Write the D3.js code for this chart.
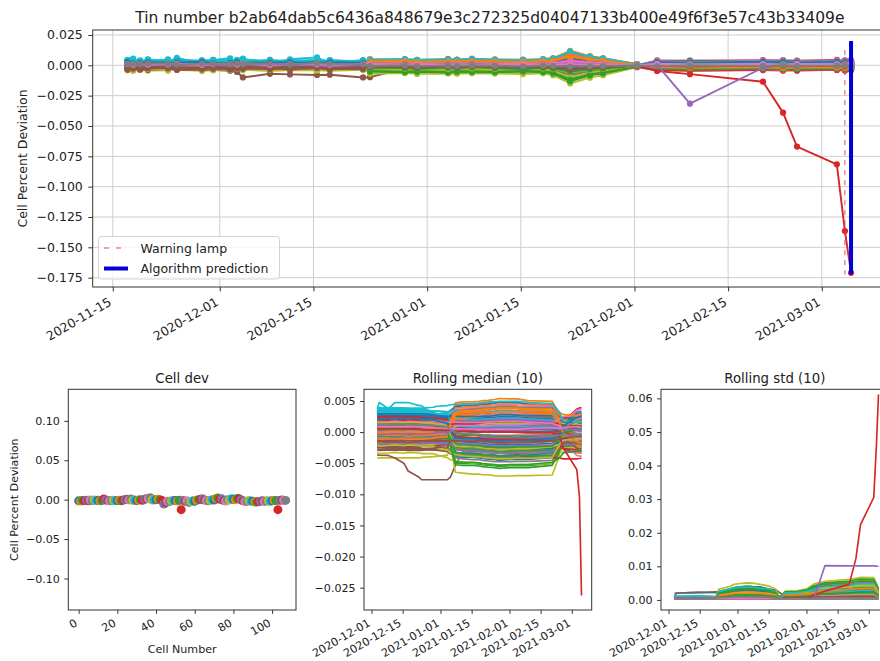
<!DOCTYPE html>
<html>
<head>
<meta charset="utf-8">
<script src="https://cdn.jsdelivr.net/npm/d3@7/dist/d3.min.js"></script>
<style>
  html, body { margin: 0; padding: 0; background: #fff; }
  svg { display: block; }
  text { font-family: "DejaVu Sans", sans-serif; fill: #222; }
</style>
</head>
<body>
<svg id="fig" width="880" height="661"></svg>
<script>
// Measurement timestamps shared by every cell
const measureTimes = [
  "2020-11-17 05:00", "2020-11-18 01:00", "2020-11-19 02:00", "2020-11-20 06:00",
  "2020-11-23 06:00", "2020-11-24 14:00", "2020-11-28 08:00", "2020-11-30 00:00",
  "2020-12-02 13:00", "2020-12-03 14:00", "2020-12-04 11:00", "2020-12-08 12:00",
  "2020-12-11 12:00", "2020-12-15 13:00", "2020-12-17 11:00", "2020-12-22 10:00",
  "2020-12-23 11:00", "2020-12-28 16:00", "2020-12-30 12:00", "2021-01-04 03:00",
  "2021-01-05 11:00", "2021-01-07 17:00", "2021-01-11 03:00", "2021-01-15 08:00",
  "2021-01-18 08:00", "2021-01-19 20:00", "2021-01-22 09:00", "2021-01-25 08:00",
  "2021-01-27 07:00", "2021-02-01 09:00", "2021-02-04 09:00", "2021-02-09 07:00",
  "2021-02-20 05:00", "2021-02-23 05:00", "2021-02-25 07:00", "2021-03-03 06:00",
  "2021-03-04 11:00", "2021-03-05 09:00"
];

// Cell percent deviation per cell (rows) and measurement (columns), in units of 0.0001
const deviationUnit = 1e-4;
const cellDeviation = [
  [25,45,30,42,22,48,34,28,44,24,40,36,20,46,30,38,-39,-44,-41,-46,-40,-42,-45,-38,-43,-50,-101,-63,-50,-8,-12,-17,-14,-19,-13,-15,-18,-11],
  [1,6,3,10,8,-1,7,5,2,9,4,8,0,11,6,3,43,49,42,46,44,48,45,41,47,54,108,68,54,9,-23,-18,-21,-16,-22,-19,-17,-24],
  [-4,-15,-10,-7,-17,-8,-2,-14,-11,-5,-16,-9,-6,-18,-7,-10,-29,-30,-34,-27,-32,-25,-31,-33,-28,-36,-72,-45,-36,-6,21,16,23,20,18,24,19,22],
  [11,16,6,14,17,9,12,19,7,13,15,8,18,10,5,14,41,36,39,34,40,38,35,42,37,46,91,57,46,8,8,3,6,1,7,5,2,9],
  [-3,-8,-1,-6,-5,0,-9,-4,-2,-7,1,-10,-3,-5,-8,-1,18,24,17,21,19,23,20,16,22,24,48,30,24,4,-13,-8,-11,-6,-12,-9,-7,-14],
  [-24,-19,-22,-15,-17,-26,-18,-20,-23,-16,-21,-17,-25,-14,-19,-22,6,5,1,8,3,10,4,2,7,6,12,8,6,1,16,11,18,15,13,19,14,17],
  [14,3,8,11,1,10,16,4,7,13,2,9,12,0,11,8,-35,-40,-37,-42,-36,-38,-41,-34,-39,-46,-91,-57,-46,-8,3,-2,1,-4,2,0,-3,4],
  [5,25,10,22,2,28,12,20,6,26,14,24,4,20,10,18,23,29,22,26,24,28,25,21,27,30,60,38,30,5,-28,-23,-26,-21,-27,-24,-22,-29],
  [-40,-45,-38,-43,-42,-37,-46,-41,-39,-44,-36,-47,-40,-42,-45,-38,-9,-10,-14,-7,-12,-5,-11,-13,-8,-12,-24,-15,-12,-2,31,26,33,30,28,34,29,32],
  [20,56,15,50,30,62,12,45,58,18,55,10,50,65,14,40,3,-2,1,-4,2,0,-3,4,-1,1,-2,2,0,0,-8,-3,-6,-1,-7,-4,-2,-9],
  [16,21,18,25,23,14,22,20,17,24,19,23,15,26,21,18,-22,-16,-23,-19,-21,-17,-20,-24,-18,-24,-48,-30,-24,-4,13,8,11,6,12,10,7,14],
  [-9,-20,-15,-12,-22,-13,-7,-19,-16,-10,-21,-14,-11,-23,-12,-15,51,50,46,53,48,55,49,47,52,60,120,75,60,10,-29,-34,-27,-30,-32,-26,-31,-28],
  [24,29,19,27,30,22,25,32,20,26,28,21,31,23,18,27,-49,-54,-51,-56,-50,-52,-55,-48,-53,-62,-125,-78,-62,-10,22,27,24,29,23,26,28,21],
  [12,7,14,9,10,15,6,11,13,8,16,5,12,10,7,14,-7,-1,-8,-4,-6,-2,-5,-9,-3,-6,-12,-8,-6,-1,41,36,43,40,38,44,39,42],
  [-26,-21,-24,-17,-19,-28,-20,-22,-25,-18,-23,-19,-27,-16,-21,-24,16,15,11,18,13,20,14,12,17,18,36,23,18,3,-2,-7,-4,-9,-3,-5,-8,-1],
  [-33,-37,-35,-38,-34,-36,-35,-37,-45,-55,-100,-70,-75,-80,-78,-100,-98,-26,-31,-27,-29,-25,-30,-28,-27,-34,-67,-42,-34,-6,7,12,9,14,8,11,13,6],
  [6,-5,0,3,-7,2,8,-4,-1,5,-6,1,4,-8,3,0,33,28,31,26,32,30,27,34,29,36,72,45,36,6,13,8,15,12,10,16,11,14],
  [17,22,12,20,23,15,18,25,13,19,21,14,24,16,11,20,-40,-34,-41,-37,-39,-35,-38,-42,-36,-46,-91,-57,-46,-8,-5,-10,-7,-12,-6,-8,-11,-4],
  [-26,-31,-24,-29,-28,-23,-32,-27,-25,-30,-22,-33,-26,-28,-31,-24,-29,-30,-34,-27,-32,-25,-31,-33,-28,-36,-72,-45,-36,-6,-33,-28,-31,-26,-32,-29,-27,-34],
  [18,42,25,38,20,45,28,16,40,24,44,19,36,22,41,27,21,16,19,14,20,18,15,22,17,22,43,27,22,4,23,18,25,22,20,26,21,24],
  [40,18,34,22,42,16,30,38,20,36,24,44,26,18,40,30,-12,-6,-13,-9,-11,-7,-10,-14,-8,-12,-24,-15,-12,-2,-32,-37,-34,-39,-33,-35,-38,-31],
  [-9,-4,-14,-6,-3,-11,-8,-1,-13,-7,-5,-12,-2,-10,-15,-6,39,38,34,41,36,43,37,35,40,46,91,57,46,8,5,10,7,12,6,9,11,4],
  [7,2,9,4,5,10,1,6,8,3,11,0,7,5,2,9,23,18,21,16,22,20,17,24,19,24,48,30,24,4,-11,-16,-9,-12,-14,-8,-13,-10],
  [18,23,20,27,25,16,24,22,19,26,21,25,17,28,23,20,10,16,9,13,11,15,12,8,14,14,29,18,14,2,21,16,19,14,20,18,15,22],
  [-6,-17,-12,-9,-19,-10,-4,-16,-13,-7,-18,-11,-8,-20,-9,-12,-17,-18,-22,-15,-20,-13,-19,-21,-16,-22,-43,-27,-22,-4,32,37,34,39,33,36,38,31],
  [-26,-21,-31,-23,-20,-28,-25,-18,-30,-24,-22,-29,-19,-27,-32,-23,11,6,9,4,10,8,5,12,7,10,19,12,10,2,-21,-26,-19,-22,-24,-18,-23,-20],
  [26,4,20,8,24,2,18,10,28,6,22,12,26,4,16,10,20,26,19,23,21,25,22,18,24,26,53,33,26,4,-37,-42,-39,-44,-38,-40,-43,-36],
  [-22,-17,-20,-13,-15,-24,-16,-18,-21,-14,-19,-15,-23,-12,-17,-20,-44,-45,-49,-42,-47,-40,-46,-48,-43,-54,-108,-68,-54,-9,25,30,27,32,26,29,31,24],
  [-2,-13,-8,-5,-15,-6,0,-12,-9,-3,-14,-7,-4,-16,-5,-8,-32,-37,-34,-39,-33,-35,-38,-31,-36,-42,-84,-53,-42,-7,6,1,8,5,3,9,4,7],
  [32,37,27,35,38,30,33,40,28,34,36,29,39,31,26,35,-30,-24,-31,-27,-29,-25,-28,-32,-26,-34,-67,-42,-34,-6,18,13,16,11,17,15,12,19],
  [28,23,30,25,26,31,22,27,29,24,32,21,28,26,23,30,45,44,40,47,42,49,43,41,46,53,106,66,53,9,-21,-16,-19,-14,-20,-17,-15,-22],
  [-2,3,0,7,5,-4,4,2,-1,6,1,5,-3,8,3,0,45,40,43,38,44,42,39,46,41,50,101,63,50,8,-7,-12,-5,-8,-10,-4,-9,-6],
  [-10,-21,-16,-13,-23,-14,-8,-20,-17,-11,-22,-15,-12,-24,-13,-16,-10,-4,-11,-7,-9,-5,-8,-12,-6,-10,-19,-12,-10,-2,18,13,16,11,17,15,12,19],
  [15,20,10,18,21,13,16,23,11,17,19,12,22,14,9,18,6,5,1,8,3,10,4,2,7,6,12,8,6,1,-31,-26,-29,-24,-30,-27,-25,-32],
  [8,3,10,5,6,11,2,7,9,4,12,1,8,6,3,10,-22,-27,-24,-29,-23,-25,-28,-21,-26,-30,-60,-38,-30,-5,23,18,25,22,20,26,21,24],
  [-34,-29,-32,-25,-27,-36,-28,-30,-33,-26,-31,-27,-35,-24,-29,-32,16,22,15,19,17,21,18,14,20,22,43,27,22,4,-9,-14,-11,-16,-10,-12,-15,-8],
  [4,-7,-2,1,-9,0,6,-6,-3,3,-8,-1,2,-10,1,-2,-11,-12,-16,-9,-14,-7,-13,-15,-10,-14,-29,-18,-14,-2,35,40,37,42,36,39,41,34],
  [19,24,14,22,25,17,20,27,15,21,23,16,26,18,13,22,13,8,11,6,12,10,7,14,9,12,24,15,12,2,-14,-19,-12,-15,-17,-11,-16,-13],
  [30,25,32,27,28,33,24,29,31,26,34,23,30,28,25,32,-70,-64,-71,-67,-69,-65,-68,-72,-66,-82,-150,-102,-82,-14,28,23,26,21,27,25,22,29],
  [24,48,30,46,28,50,22,42,38,26,47,32,20,44,30,40,29,28,24,31,26,33,27,25,30,34,67,42,34,6,3,-2,5,2,0,6,1,4],
  [36,25,30,33,23,32,38,26,29,35,24,31,34,22,33,30,-32,-37,-34,-39,-33,-35,-38,-31,-36,-42,-84,-53,-42,-7,17,22,19,24,18,21,23,16],
  [-5,0,-10,-2,1,-7,-4,3,-9,-3,-1,-8,2,-6,-11,-2,30,36,29,33,31,35,32,28,34,38,77,48,38,6,-32,-37,-34,-39,-33,-35,-38,-31],
  [12,7,14,9,10,15,6,11,13,8,16,5,12,10,7,14,11,10,6,13,8,15,9,7,12,12,24,15,12,2,11,6,13,10,8,14,9,12],
  [14,19,16,23,21,12,20,18,15,22,17,21,13,24,19,16,-12,-17,-14,-19,-13,-15,-18,-11,-16,-18,-36,-23,-18,-3,-8,-3,-6,-1,-7,-4,-2,-9],
  [-2,-13,-8,-5,-15,-6,0,-12,-9,-3,-14,-7,-4,-16,-5,-8,6,12,5,9,7,11,8,4,10,10,19,12,10,2,31,26,33,30,28,34,29,32],
  [-23,-18,-28,-20,-17,-25,-22,-15,-27,-21,-19,-26,-16,-24,-29,-20,-7,-8,-12,-5,-10,-3,-9,-11,-6,-10,-19,-12,-10,-2,-15,-20,-17,-22,-16,-18,-21,-14],
  [6,1,8,3,4,9,0,5,7,2,10,-1,6,4,1,8,43,38,41,36,42,40,37,44,39,48,96,60,48,8,-5,0,-3,2,-4,-1,1,-6],
  [8,13,10,17,15,6,14,12,9,16,11,15,7,18,13,10,-24,-18,-25,-21,-23,-19,-22,-26,-20,-26,-53,-33,-26,-4,13,8,15,12,10,16,11,14],
  [-28,-39,-34,-31,-41,-32,-26,-38,-35,-29,-40,-33,-30,-42,-31,-34,-49,-50,-54,-47,-52,-45,-51,-53,-48,-60,-120,-75,-60,-10,-17,-22,-19,-24,-18,-20,-23,-16],
  [20,42,26,40,22,44,30,38,24,46,28,36,20,42,32,26,18,13,16,11,17,15,12,19,14,18,36,23,18,3,-33,-28,-31,-26,-32,-29,-27,-34],
  [26,21,28,23,24,29,20,25,27,22,30,19,26,24,21,28,20,26,19,23,21,25,22,18,24,26,53,33,26,4,9,4,11,8,6,12,7,10],
  [-10,-5,-8,-1,-3,-12,-4,-6,-9,-2,-7,-3,-11,0,-5,-8,31,30,26,33,28,35,29,27,32,36,72,45,36,6,-12,-17,-14,-19,-13,-15,-18,-11],
  [20,9,14,17,7,16,22,10,13,19,8,15,18,6,17,14,-52,-57,-54,-59,-53,-55,-58,-51,-56,-66,-132,-83,-66,-11,29,34,31,36,30,33,35,28],
  [8,13,3,11,14,6,9,16,4,10,12,5,15,7,2,11,-8,-12,-15,-18,-20,-24,-27,-30,-33,-40,-75,-50,-45,-15,-41,-46,-39,-42,-44,-38,-43,-40],
  [-12,-17,-10,-15,-14,-9,-18,-13,-11,-16,-8,-19,-12,-14,-17,-10,0,6,-1,3,1,5,2,-2,4,2,5,3,2,0,-5,-10,-7,-12,-6,-8,-11,-4],
  [-22,-17,-20,-13,-15,-24,-16,-18,-21,-14,-19,-15,-23,-12,-17,-20,26,25,21,28,23,30,24,22,27,30,60,38,30,5,17,22,19,24,18,21,23,16],
  [8,-3,2,5,-5,4,10,-2,1,7,-4,3,6,-6,5,2,-25,-30,-27,-32,-26,-28,-31,-24,-29,-34,-67,-42,-34,-6,-21,-26,-19,-22,-24,-18,-23,-20],
  [21,26,16,24,27,19,22,29,17,23,25,18,28,20,15,24,16,22,15,19,17,21,18,14,20,22,43,27,22,4,13,8,11,6,12,10,7,14],
  [-18,-23,-16,-21,-20,-15,-24,-19,-17,-22,-14,-25,-18,-20,-23,-16,-19,-20,-24,-17,-22,-15,-21,-23,-18,-24,-48,-30,-24,-4,-8,-3,-6,-1,-7,-4,-2,-9],
  [46,22,40,28,50,24,38,20,44,30,48,26,36,18,42,32,-37,-42,-39,-44,-38,-40,-43,-36,-41,-48,-96,-60,-48,-8,29,24,31,28,26,32,27,30],
  [28,17,22,25,15,24,30,18,21,27,16,23,26,14,25,22,3,9,2,6,4,8,5,1,7,6,12,8,6,1,-22,-27,-24,-29,-23,-25,-28,-21],
  [-1,4,-6,2,5,-3,0,7,-5,1,3,-4,6,-2,-7,2,36,35,31,38,33,40,34,32,37,42,84,53,42,7,15,20,17,22,16,19,21,14],
  [-6,-11,-4,-9,-8,-3,-12,-7,-5,-10,-2,-13,-6,-8,-11,-4,-2,-7,-4,-9,-3,-5,-8,-1,-6,-6,-12,-8,-6,-1,-9,-14,-7,-10,-12,-6,-11,-8],
  [16,21,18,25,23,14,22,20,17,24,19,23,15,26,21,18,-2,4,-3,1,-1,3,0,-4,2,0,1,-1,0,0,15,10,13,8,14,12,9,16],
  [9,-2,3,6,-4,5,11,-1,2,8,-3,4,7,-5,6,3,-31,-32,-36,-29,-34,-27,-33,-35,-30,-38,-77,-48,-38,-6,-18,-13,-16,-11,-17,-14,-12,-19],
  [-25,-20,-30,-22,-19,-27,-24,-17,-29,-23,-21,-28,-18,-26,-31,-22,15,10,13,8,14,12,9,16,11,14,29,18,14,2,26,21,28,25,23,29,24,27],
  [12,7,14,9,10,15,6,11,13,8,16,5,12,10,7,14,26,32,25,29,27,31,28,24,30,34,67,42,34,6,-29,-34,-31,-36,-30,-32,-35,-28],
  [-16,-11,-14,-7,-9,-18,-10,-12,-15,-8,-13,-9,-17,-6,-11,-14,-11,-12,-16,-9,-14,-7,-13,-15,-10,-14,-29,-18,-14,-2,3,8,5,10,4,7,9,2],
  [-9,-20,-15,-12,-22,-13,-7,-19,-16,-10,-21,-14,-11,-23,-12,-15,-17,-22,-19,-24,-18,-20,-23,-16,-21,-24,-48,-30,-24,-4,-24,-29,-22,-25,-27,-21,-26,-23],
  [36,41,31,39,42,34,37,44,32,38,40,33,43,35,30,39,18,24,17,21,19,23,20,16,22,24,48,30,24,4,-9,-14,-11,-16,-10,-12,-15,-8],
  [29,24,31,26,27,32,23,28,30,25,33,22,29,27,24,31,-17,-18,-22,-15,-20,-13,-19,-21,-16,-22,-43,-27,-22,-4,29,34,31,36,30,33,35,28],
  [-14,-9,-12,-5,-7,-16,-8,-10,-13,-6,-11,-7,-15,-4,-9,-12,28,23,26,21,27,25,22,29,24,30,60,38,30,5,1,-4,3,0,-2,4,-1,2],
  [14,3,8,11,1,10,16,4,7,13,2,9,12,0,11,8,-38,-32,-39,-35,-37,-33,-36,-40,-34,-43,-86,-54,-43,-7,-17,-22,-19,-24,-18,-20,-23,-16],
  [13,18,8,16,19,11,14,21,9,15,17,10,20,12,7,16,31,30,26,33,28,35,29,27,32,36,72,45,36,6,-13,-8,-11,-6,-12,-9,-7,-14],
  [-18,-23,-16,-21,-20,-15,-24,-19,-17,-22,-14,-25,-18,-20,-23,-16,-5,-10,-7,-12,-6,-8,-11,-4,-9,-10,-19,-12,-10,-2,17,12,19,16,14,20,15,18],
  [-18,-13,-16,-9,-11,-20,-12,-14,-17,-10,-15,-11,-19,-8,-13,-16,12,18,11,15,13,17,14,10,16,17,34,21,17,3,-25,-30,-27,-32,-26,-28,-31,-24],
  [12,1,6,9,-1,8,14,2,5,11,0,7,10,-2,9,6,-19,-20,-24,-17,-22,-15,-21,-23,-18,-24,-48,-30,-24,-4,21,26,23,28,22,25,27,20],
  [15,20,10,18,21,13,16,23,11,17,19,12,22,14,9,18,41,36,39,34,40,38,35,42,37,46,91,57,46,8,-5,-10,-3,-6,-8,-2,-7,-4],
  [-8,-13,-6,-11,-10,-5,-14,-9,-7,-12,-4,-15,-8,-10,-13,-6,10,16,9,13,11,15,12,8,14,14,29,18,14,2,15,10,13,8,14,12,9,16],
  [27,32,29,36,34,25,33,31,28,35,30,34,26,37,32,29,9,8,4,11,6,13,7,5,10,10,19,12,10,2,-23,-18,-21,-16,-22,-19,-17,-24],
  [31,20,25,28,18,27,33,21,24,30,19,26,29,17,28,25,28,23,26,21,27,25,22,29,24,30,60,38,30,5,15,10,17,14,12,18,13,16],
  [-3,2,-8,0,3,-5,-2,5,-7,-1,1,-6,4,-4,-9,0,34,40,33,37,35,39,36,32,38,43,86,54,43,7,-21,-26,-23,-28,-22,-24,-27,-20],
  [-4,-9,-2,-7,-6,-1,-10,-5,-3,-8,0,-11,-4,-6,-9,-2,-27,-28,-32,-25,-30,-23,-29,-31,-26,-34,-67,-42,-34,-6,25,30,27,32,26,29,31,24],
  [20,25,22,29,27,18,26,24,21,28,23,27,19,30,25,22,-7,-12,-9,-14,-8,-10,-13,-6,-11,-12,-24,-15,-12,-2,-31,-36,-29,-32,-34,-28,-33,-30],
  [-4,-15,-10,-7,-17,-8,-2,-14,-11,-5,-16,-9,-6,-18,-7,-10,16,22,15,19,17,21,18,14,20,22,43,27,22,4,7,2,5,0,6,4,1,8],
  [-27,-22,-32,-24,-21,-29,-26,-19,-31,-25,-23,-30,-20,-28,-33,-24,-39,-40,-44,-37,-42,-35,-41,-43,-38,-48,-96,-60,-48,-8,-18,-13,-16,-11,-17,-14,-12,-19],
  [14,9,16,11,12,17,8,13,15,10,18,7,14,12,9,16,13,8,11,6,12,10,7,14,9,12,24,15,12,2,31,26,33,30,28,34,29,32],
  [-8,-3,-6,1,-1,-10,-2,-4,-7,0,-5,-1,-9,2,-3,-6,-32,-26,-33,-29,-31,-27,-30,-34,-28,-36,-72,-45,-36,-6,-7,-12,-9,-14,-8,-10,-13,-6],
  [-16,-27,-22,-19,-29,-20,-14,-26,-23,-17,-28,-21,-18,-30,-19,-22,-39,-40,-44,-37,-42,-35,-41,-43,-38,-48,-96,-60,-48,-8,15,20,17,22,16,19,21,14],
  [34,39,29,37,40,32,35,42,30,36,38,31,41,33,28,37,35,30,33,28,34,32,29,36,31,38,77,48,38,6,1,-4,3,0,-2,4,-1,2],
  [31,26,33,28,29,34,25,30,32,27,35,24,31,29,26,33,-27,-21,-28,-24,-26,-22,-25,-29,-23,-30,-60,-38,-30,-5,-5,-10,-7,-12,-6,-8,-11,-4],
  [-16,-11,-14,-7,-9,-18,-10,-12,-15,-8,-13,-9,-17,-6,-11,-14,35,34,30,37,32,39,33,31,36,41,82,51,41,7,22,27,24,29,23,26,28,21],
  [18,7,12,15,5,14,20,8,11,17,6,13,16,4,15,12,-47,-52,-49,-54,-48,-50,-53,-46,-51,-60,-120,-75,-60,-10,-29,-34,-27,-30,-32,-26,-31,-28],
  [7,12,2,10,13,5,8,15,3,9,11,4,14,6,1,10,13,19,12,16,14,18,15,11,17,18,36,23,18,3,11,6,9,4,10,8,5,12],
  [-14,-19,-12,-17,-16,-11,-20,-15,-13,-18,-10,-21,-14,-16,-19,-12,-19,-20,-24,-17,-22,-15,-21,-23,-18,-24,-48,-30,-24,-4,-21,-16,-19,-14,-20,-17,-15,-22],
  [-32,-27,-30,-23,-25,-34,-26,-28,-31,-24,-29,-25,-33,-22,-27,-30,3,-2,1,-4,2,0,-3,4,-1,0,1,-1,0,0,11,6,13,10,8,14,9,12],
  [22,11,16,19,9,18,24,12,15,21,10,17,20,8,19,16,13,19,12,16,14,18,15,11,17,18,36,23,18,3,-9,-14,-11,-16,-10,-12,-15,-8],
  [9,14,4,12,15,7,10,17,5,11,13,6,16,8,3,12,-14,-15,-19,-12,-17,-10,-16,-18,-13,-18,-36,-23,-18,-3,17,22,19,24,18,21,23,16],
  [17,12,19,14,15,20,11,16,18,13,21,10,17,15,12,19,-22,-27,-24,-29,-23,-25,-28,-21,-26,-30,-60,-38,-30,-5,-9,-14,-7,-10,-12,-6,-11,-8],
  [34,39,36,43,41,32,40,38,35,42,37,41,33,44,39,36,45,51,44,48,46,50,47,43,49,56,113,71,56,9,18,13,16,11,17,15,12,19],
  [27,16,21,24,14,23,29,17,20,26,15,22,25,13,24,21,-9,-14,-11,-16,-10,-12,-15,-8,-13,-14,-29,-18,-14,-2,27,22,29,26,24,30,25,28],
  [-7,-2,-12,-4,-1,-9,-6,1,-11,-5,-3,-10,0,-8,-13,-4,28,34,27,31,29,33,30,26,32,36,72,45,36,6,-15,-20,-17,-22,-16,-18,-21,-14],
  [6,1,8,3,4,9,0,5,7,2,10,-1,6,4,1,8,-21,-22,-26,-19,-24,-17,-23,-25,-20,-26,-53,-33,-26,-4,3,8,5,10,4,7,9,2],
  [1,6,3,10,8,-1,7,5,2,9,4,8,0,11,6,3,3,-2,1,-4,2,0,-3,4,-1,2,3,0,-2,-5,-47,-73,-135,-390,-670,-816,-1366,-1710],
  [2,-9,-4,-1,-11,-2,4,-8,-5,1,-10,-3,0,-12,-1,-4,4,10,3,7,5,9,6,2,8,7,14,9,7,1,4,-316,-20,5,1,3,0,2],
  [-17,-12,-22,-14,-11,-19,-16,-9,-21,-15,-13,-20,-10,-18,-23,-14,-13,-14,-18,-11,-16,-9,-15,-17,-12,-17,-34,-21,-17,-3,-5,-10,-3,-6,-8,-2,-7,-4],
  [10,5,12,7,8,13,4,9,11,6,14,3,10,8,5,12,7,2,5,0,6,4,1,8,3,5,10,6,5,1,13,8,11,6,12,10,7,14],
  [8,13,10,17,15,6,14,12,9,16,11,15,7,18,13,10,-6,0,-7,-3,-5,-1,-4,-8,-2,-5,-10,-6,-5,-1,-7,-2,-5,0,-6,-3,-1,-8]
];

// Deviation per cell number for the "Cell dev" panel, in units of 0.0001
const cellDevSnapshot = [
  -15,-18,-10,-12,-8,-15,-5,-12,-3,-10,
  -8,-15,-12,8,-5,-10,-15,-12,-8,-10,
  -12,-8,-15,-5,0,5,-3,8,-10,-5,
  -12,-5,0,-8,5,10,15,25,-5,-3,
  0,5,0,-10,-55,-40,-20,-25,-15,-12,
  -12,-18,-8,-127,-10,-20,-15,-35,-22,-15,
  -20,-8,0,5,10,-5,-12,-15,-10,0,
  -5,15,20,5,10,-12,-18,0,-5,10,
  5,0,15,10,-5,-15,-25,-20,-12,-18,
  -20,-28,-30,-25,-20,-15,-22,-18,-15,-20,
  -15,-10,-12,-127,-10,-5,-8,-10
];

// Event markers
const lampTime = "2021-03-04 11:00";
const lampRange = [-0.1725, 0.0125];
const predictionTime = "2021-03-05 09:00";
const predictionRange = [-0.1725, 0.0200];
const rollingWindow = 10;

// Texts, limits and ticks
const titleText = "Tin number b2ab64dab5c6436a848679e3c272325d04047133b400e49f6f3e57c43b33409e";
const legendLabels = ["Warning lamp", "Algorithm prediction"];
const topTimeDomain = ["2020-11-12 00:00", "2021-03-10 18:00"];
const topYDomain = [-0.1827, 0.0291];
const topDateTicks = ["2020-11-15", "2020-12-01", "2020-12-15", "2021-01-01", "2021-01-15", "2021-02-01", "2021-02-15", "2021-03-01"];
const topYTicks = [0.025, 0, -0.025, -0.05, -0.075, -0.1, -0.125, -0.15, -0.175];
const devXDomain = [-5.35, 112.35];
const devYDomain = [-0.14, 0.14];
const devXTicks = [0, 20, 40, 60, 80, 100];
const devYTicks = [0.1, 0.05, 0, -0.05, -0.1];
const rollTimeDomain = ["2020-11-27 15:00", "2021-03-09 23:00"];
const rollDateTicks = ["2020-12-01", "2020-12-15", "2021-01-01", "2021-01-15", "2021-02-01", "2021-02-15", "2021-03-01"];
const medYDomain = [-0.02859, 0.00688];
const medYTicks = [0.005, 0, -0.005, -0.01, -0.015, -0.02, -0.025];
const stdYDomain = [-0.0030, 0.0627];
const stdYTicks = [0, 0.01, 0.02, 0.03, 0.04, 0.05, 0.06];

const parseTime = d3.timeParse("%Y-%m-%d %H:%M");
const parseDay = d3.timeParse("%Y-%m-%d");
const times = measureTimes.map(parseTime);
const color = i => d3.schemeCategory10[i % 10];
const withMinus = f => v => f(v).replace("-", "\u2212");
const svg = d3.select("#fig");
const FONT = '"DejaVu Sans", sans-serif';

const topBox = {l: 92.7, r: 887, t: 30, b: 287};
const devBox = {l: 68.3, r: 296, t: 389.3, b: 610};
const medBox = {l: 364, r: 591.7, t: 389.3, b: 610};
const stdBox = {l: 661, r: 888.7, t: 389.3, b: 610};

function clipFor(id, box) {
  svg.append("clipPath").attr("id", id).append("rect")
    .attr("x", box.l).attr("y", box.t).attr("width", box.r - box.l).attr("height", box.b - box.t);
  return `url(#${id})`;
}

function frame(box) {
  svg.append("rect").attr("x", box.l).attr("y", box.t)
    .attr("width", box.r - box.l).attr("height", box.b - box.t)
    .attr("fill", "none").attr("stroke", "#333").attr("stroke-width", 1);
}

function leftAxis(box, y, ticks, fmt, fs, len, pad) {
  const g = svg.append("g").attr("transform", `translate(${box.l},0)`)
    .call(d3.axisLeft(y).tickValues(ticks).tickFormat(fmt)
      .tickSizeInner(len).tickSizeOuter(0).tickPadding(pad));
  g.select(".domain").remove();
  g.attr("color", "#333");
  g.selectAll("line").attr("stroke-width", 1);
  g.selectAll("text").attr("font-size", fs).attr("font-family", FONT);
}

function bottomAxis(box, x, ticks, fmt, fs, len) {
  const g = svg.append("g").attr("transform", `translate(0,${box.b})`)
    .call(d3.axisBottom(x).tickValues(ticks).tickFormat(fmt)
      .tickSizeInner(len).tickSizeOuter(0).tickPadding(len));
  g.select(".domain").remove();
  g.attr("color", "#333");
  g.selectAll("line").attr("stroke-width", 1);
  const top = 2 * len + 0.5;
  const shift = -0.45 * fs;
  g.selectAll("text")
    .attr("font-size", fs).attr("font-family", FONT)
    .attr("text-anchor", "end").attr("dy", null)
    .attr("dominant-baseline", "hanging")
    .attr("x", shift).attr("y", top)
    .attr("transform", `rotate(-30 ${shift} ${top})`);
}

function title(text, x, y, fs) {
  svg.append("text").attr("x", x).attr("y", y).attr("text-anchor", "middle")
    .attr("font-size", fs).text(text);
}

function yLabel(text, x, y, fs) {
  svg.append("text").attr("transform", `translate(${x},${y}) rotate(-90)`)
    .attr("text-anchor", "middle").attr("font-size", fs).text(text);
}

// ---------- Top: cell deviation over time ----------
const xTop = d3.scaleTime().domain(topTimeDomain.map(parseTime)).range([topBox.l, topBox.r]);
const yTop = d3.scaleLinear().domain(topYDomain).range([topBox.b, topBox.t]);

const grid = svg.append("g").attr("stroke", "#cfcfcf").attr("stroke-width", 1);
topDateTicks.map(parseDay).forEach(t => {
  grid.append("line").attr("x1", xTop(t)).attr("x2", xTop(t)).attr("y1", topBox.t).attr("y2", topBox.b);
});
topYTicks.forEach(v => {
  grid.append("line").attr("x1", topBox.l).attr("x2", topBox.r).attr("y1", yTop(v)).attr("y2", yTop(v));
});

const gTop = svg.append("g").attr("clip-path", clipFor("clipTop", topBox));
const topLine = d3.line().x((d, i) => xTop(times[i])).y(d => yTop(d * deviationUnit));
cellDeviation.forEach((row, c) => {
  const g = gTop.append("g");
  g.append("path").attr("d", topLine(row)).attr("fill", "none")
    .attr("stroke", color(c)).attr("stroke-width", 1.9).attr("stroke-linejoin", "round");
  g.selectAll("circle").data(row).join("circle")
    .attr("cx", (d, i) => xTop(times[i])).attr("cy", d => yTop(d * deviationUnit))
    .attr("r", 3.1).attr("fill", color(c));
});

const lampX = xTop(parseTime(lampTime));
gTop.append("line").attr("x1", lampX).attr("x2", lampX)
  .attr("y1", yTop(lampRange[1])).attr("y2", yTop(lampRange[0]))
  .attr("stroke", "#e24a4a").attr("stroke-width", 1).attr("stroke-dasharray", "5,5");
const predX = xTop(parseTime(predictionTime));
gTop.append("line").attr("x1", predX).attr("x2", predX)
  .attr("y1", yTop(predictionRange[1])).attr("y2", yTop(predictionRange[0]))
  .attr("stroke", "#0000d8").attr("stroke-width", 4);

frame(topBox);
leftAxis(topBox, yTop, topYTicks, withMinus(d3.format(".3f")), 12.5, 4.4, 5.5);
bottomAxis(topBox, xTop, topDateTicks.map(parseDay), d3.timeFormat("%Y-%m-%d"), 12.5, 4.4);
title(titleText, (topBox.l + topBox.r) / 2, 23.3, 15.5);
yLabel("Cell Percent Deviation", 26.5, (topBox.t + topBox.b) / 2, 12.5);

// legend
const lg = svg.append("g");
lg.append("rect").attr("x", 98.5).attr("y", 236.5).attr("width", 181).attr("height", 42.5)
  .attr("rx", 3).attr("fill", "#fff").attr("fill-opacity", 0.8).attr("stroke", "#d4d4d4");
lg.append("line").attr("x1", 104).attr("x2", 128).attr("y1", 248).attr("y2", 248)
  .attr("stroke", "#e24a4a").attr("stroke-width", 1).attr("stroke-dasharray", "5,7");
lg.append("line").attr("x1", 104).attr("x2", 128).attr("y1", 268.5).attr("y2", 268.5)
  .attr("stroke", "#0000d8").attr("stroke-width", 4);
lg.append("text").attr("x", 140.5).attr("y", 252.7).attr("font-size", 12.5).text(legendLabels[0]);
lg.append("text").attr("x", 140.5).attr("y", 273).attr("font-size", 12.5).text(legendLabels[1]);

// ---------- Bottom left: deviation per cell ----------
const xDev = d3.scaleLinear().domain(devXDomain).range([devBox.l, devBox.r]);
const yDev = d3.scaleLinear().domain(devYDomain).range([devBox.b, devBox.t]);
const gDev = svg.append("g").attr("clip-path", clipFor("clipDev", devBox));
gDev.selectAll("circle").data(cellDevSnapshot).join("circle")
  .attr("cx", (d, i) => xDev(i)).attr("cy", d => yDev(d * deviationUnit))
  .attr("r", 4.5).attr("fill", (d, i) => color(i));
frame(devBox);
leftAxis(devBox, yDev, devYTicks, withMinus(d3.format(".2f")), 11.1, 3.9, 4.5);
bottomAxis(devBox, xDev, devXTicks, d3.format("d"), 11.1, 3.9);
title("Cell dev", (devBox.l + devBox.r) / 2, 383.3, 13.3);
yLabel("Cell Percent Deviation", 18, (devBox.t + devBox.b) / 2, 11.1);
svg.append("text").attr("x", (devBox.l + devBox.r) / 2).attr("y", 653)
  .attr("text-anchor", "middle").attr("font-size", 11.1).text("Cell Number");

// ---------- Rolling statistics ----------
const rolling = (row, fn) => row.map((v, i) =>
  i < rollingWindow - 1 ? null : fn(row.slice(i - rollingWindow + 1, i + 1)) * deviationUnit);
const medianRows = cellDeviation.map(r => rolling(r, d3.median));
const stdRows = cellDeviation.map(r => rolling(r, d3.deviation));

function rollingPanel(box, rows, yDomain, yTicks, fmt, name, clipId) {
  const x = d3.scaleTime().domain(rollTimeDomain.map(parseTime)).range([box.l, box.r]);
  const y = d3.scaleLinear().domain(yDomain).range([box.b, box.t]);
  const g = svg.append("g").attr("clip-path", clipFor(clipId, box));
  const line = d3.line().defined(d => d !== null).x((d, i) => x(times[i])).y(d => y(d));
  rows.forEach((row, c) => {
    g.append("path").attr("d", line(row)).attr("fill", "none")
      .attr("stroke", color(c)).attr("stroke-width", 1.65).attr("stroke-linejoin", "round");
  });
  frame(box);
  leftAxis(box, y, yTicks, fmt, 11.1, 3.9, 4.5);
  bottomAxis(box, x, rollDateTicks.map(parseDay), d3.timeFormat("%Y-%m-%d"), 11.1, 3.9);
  title(name, (box.l + box.r) / 2, 383.3, 13.3);
}

rollingPanel(medBox, medianRows, medYDomain, medYTicks, withMinus(d3.format(".3f")), "Rolling median (10)", "clipMed");
rollingPanel(stdBox, stdRows, stdYDomain, stdYTicks, withMinus(d3.format(".2f")), "Rolling std (10)", "clipStd");
</script>
</body>
</html>
